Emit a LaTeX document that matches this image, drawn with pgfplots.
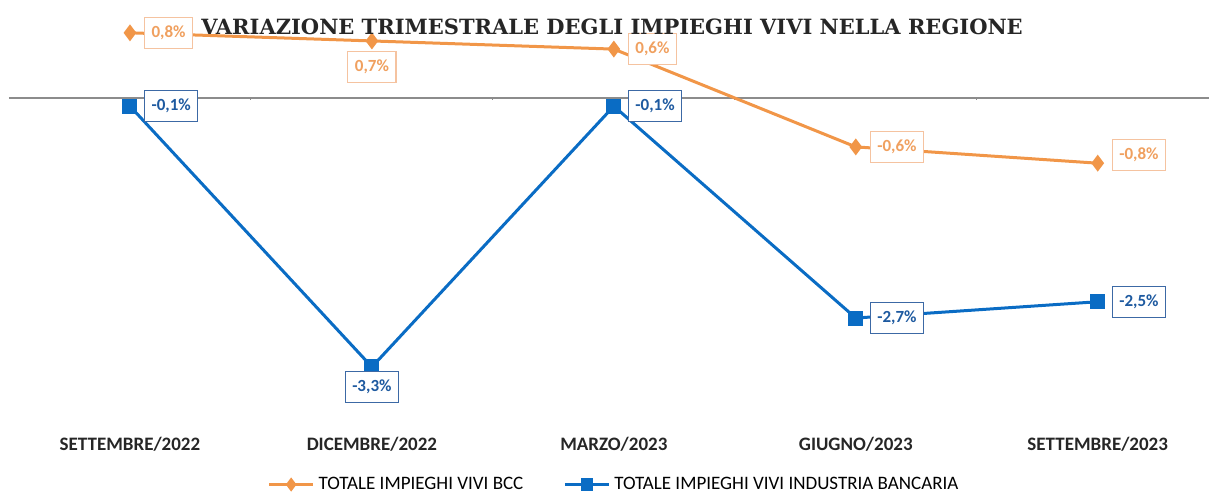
\documentclass[border=0pt]{standalone}
\usepackage{pgfplots}
\pgfplotsset{compat=1.18}
\usepackage{fontspec}
\setmainfont{Carlito}
\newfontfamily\titlefont{DejaVu Serif}
\definecolor{bccorange}{RGB}{241,150,72}
\definecolor{bcclabel}{RGB}{240,160,95}
\definecolor{bccborder}{RGB}{245,195,160}
\definecolor{indblue}{RGB}{10,108,196}
\definecolor{indlabel}{RGB}{30,90,160}
\definecolor{indborder}{RGB}{60,105,165}
\tikzset{
  lblbase/.style={font=\fontsize{8.5pt}{10pt}\selectfont\bfseries, fill=white, line width=0.6pt,
    inner xsep=3.5pt, inner ysep=4pt, text height=6pt, text depth=1.5pt},
  orangelbl/.style={lblbase, text=bcclabel, draw=bccborder},
  bluelbl/.style={lblbase, text=indlabel, draw=indborder},
}
\begin{document}
\begin{tikzpicture}
\useasboundingbox (0,0) rectangle (605.5pt,247.5pt);
\begin{axis}[
  at={(4.5pt,32.5pt)}, anchor=south west,
  scale only axis, width=600pt, height=205pt,
  xmin=-0.5, xmax=4.46, ymin=-4.074, ymax=0.957,
  clip=false,
  axis line style={draw=none},
  ytick=\empty,
  xtick={0,1,2,3,4},
  xticklabels={SETTEMBRE/2022,DICEMBRE/2022,MARZO/2023,GIUGNO/2023,SETTEMBRE/2023},
  xticklabel style={font=\fontsize{9.5pt}{11pt}\selectfont\bfseries, text=black!85},
  major tick length=0pt,
  /pgf/number format/assume math mode=true,
  point meta=y,
  nodes near coords={\pgfmathprintnumber[use comma,fixed,fixed zerofill,precision=1]{\pgfplotspointmeta}\%},
  legend style={at={(0.505,-0.133)}, anchor=center, draw=none, fill=none,
    legend columns=2, font=\fontsize{9.5pt}{10pt}\selectfont, inner sep=0pt,
    /tikz/every even column/.append style={column sep=18pt}},
  legend image code/.code={
    \draw[#1, line width=1.5pt] (0pt,0pt) -- (22pt,0pt);
    \draw[#1, only marks, mark size=2.3pt] plot coordinates {(11pt,0pt)};
  },
]
\draw[black!45, line width=0.6pt] (axis cs:-0.5,0) -- (axis cs:4.46,0);
\draw[black!45, line width=0.5pt] (axis cs:0.5,0) -- (axis cs:0.5,-0.03);
\draw[black!45, line width=0.5pt] (axis cs:1.5,0) -- (axis cs:1.5,-0.03);
\draw[black!45, line width=0.5pt] (axis cs:2.5,0) -- (axis cs:2.5,-0.03);
\draw[black!45, line width=0.5pt] (axis cs:3.5,0) -- (axis cs:3.5,-0.03);

\addplot[color=bccorange, line width=1.5pt, mark=diamond*, mark size=3pt, nodes near coords={}]
  coordinates {(0,0.8) (1,0.7) (2,0.6) (3,-0.6) (4,-0.8)};
\addlegendentry{TOTALE IMPIEGHI VIVI BCC}

\addplot[color=indblue, line width=1.5pt, mark=square*, mark size=3pt, nodes near coords={}]
  coordinates {(0,-0.1) (1,-3.3) (2,-0.1) (3,-2.7) (4,-2.5)};
\addlegendentry{TOTALE IMPIEGHI VIVI INDUSTRIA BANCARIA}

% data labels
\addplot[draw=none, forget plot, every node near coord/.append style={orangelbl, anchor=west, xshift=7pt}]
  coordinates {(0,0.8) (2,0.6) (3,-0.6)};
\addplot[draw=none, forget plot, every node near coord/.append style={orangelbl, anchor=west, xshift=7pt, yshift=4pt}]
  coordinates {(4,-0.8)};
\addplot[draw=none, forget plot, every node near coord/.append style={orangelbl, anchor=north, yshift=-5pt}]
  coordinates {(1,0.7)};
\addplot[draw=none, forget plot, every node near coord/.append style={bluelbl, anchor=west, xshift=7pt}]
  coordinates {(0,-0.1) (2,-0.1) (3,-2.7) (4,-2.5)};
\addplot[draw=none, forget plot, every node near coord/.append style={bluelbl, anchor=north, yshift=-2pt}]
  coordinates {(1,-3.3)};
\end{axis}
\node[font=\titlefont\fontsize{10.5pt}{12pt}\selectfont\bfseries, text=black!85] at (306pt,234pt) {VARIAZIONE TRIMESTRALE DEGLI IMPIEGHI VIVI NELLA REGIONE};
\end{tikzpicture}
\end{document}
